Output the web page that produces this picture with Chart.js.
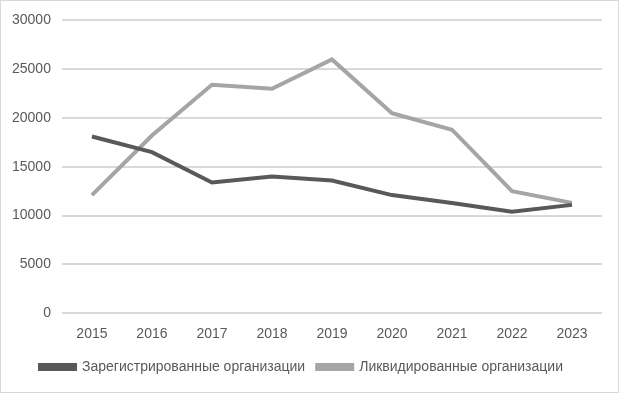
<!DOCTYPE html>
<html>
<head>
<meta charset="utf-8">
<script src="https://cdn.jsdelivr.net/npm/chart.js@4"></script>
<style>
  html, body { margin: 0; padding: 0; background: #fff; }
  #wrap { width: 617px; height: 391px; border: 1px solid #d9d9d9; }
</style>
</head>
<body>
<div id="wrap"><canvas id="lineChart" width="617" height="391"></canvas></div>
<script>
// годы
const years = ['2015', '2016', '2017', '2018', '2019', '2020', '2021', '2022', '2023'];
// зарегистрированные
const registered = [18100, 16500, 13400, 14000, 13600, 12100, 11300, 10400, 11100];
// ликвидированные
const liquidated = [12100, 18200, 23400, 23000, 26000, 20500, 18800, 12500, 11300];
const yTicks = [0, 5000, 10000, 15000, 20000, 25000, 30000];

Chart.defaults.font.family = "'Liberation Sans', Arial, sans-serif";
Chart.defaults.font.size = 14;
Chart.defaults.color = '#595959';

const ctx = document.getElementById('lineChart').getContext('2d');
const chart = new Chart(ctx, {
  type: 'line',
  data: {
    labels: years,
    datasets: [{
      label: 'Зарегистрированные организации',
      data: registered,
      borderColor: '#595959',
      backgroundColor: '#595959',
      borderWidth: 4,
      pointRadius: 0,
      tension: 0
    }, {
      label: 'Ликвидированные организации',
      data: liquidated,
      borderColor: '#a5a5a5',
      backgroundColor: '#a5a5a5',
      borderWidth: 4,
      pointRadius: 0,
      tension: 0
    }]
  },
  options: {
    responsive: false,
    animation: false,
    maintainAspectRatio: false,
    layout: { padding: { left: 0, right: 16, top: 13, bottom: 8 } },
    plugins: {
      legend: {
        position: 'bottom',
        labels: {
          boxWidth: 35,
          boxHeight: 4,
          padding: 12,
          color: '#595959'
        }
      },
      tooltip: { enabled: false }
    },
    scales: {
      x: {
        offset: true,
        grid: { display: false },
        border: { display: false },
        ticks: { padding: 5 }
      },
      y: {
        min: 0,
        max: 30000,
        afterBuildTicks: (axis) => { axis.ticks = yTicks.map(v => ({ value: v })); },
        grid: { color: '#d9d9d9', lineWidth: 2, drawTicks: false },
        border: { display: false },
        ticks: { padding: 11, callback: (v) => String(v) }
      }
    }
  }
});
</script>
</body>
</html>
